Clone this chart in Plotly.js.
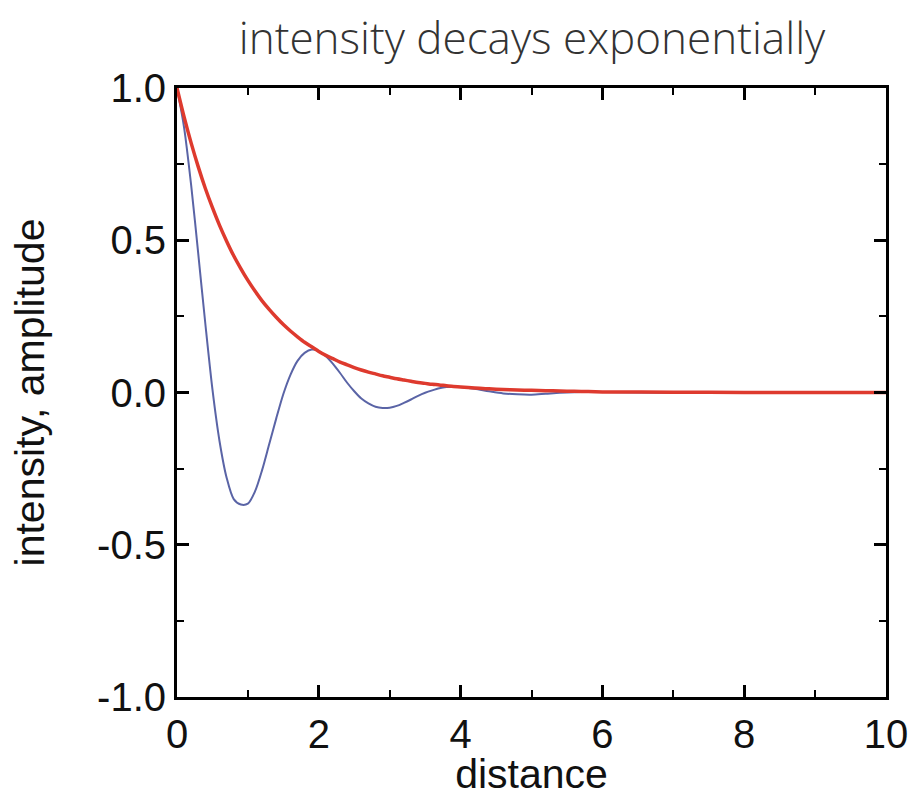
<!DOCTYPE html>
<html>
<head>
<meta charset="utf-8">
<script src="https://cdn.plot.ly/plotly-3.0.1.min.js"></script>
<style>html,body{margin:0;padding:0;background:#fff;}#chart{width:911px;height:797px;}</style>
</head>
<body>
<div id="chart"></div>
<script>
// distance samples
const distance = [0,0.1,0.2,0.3,0.4,0.5,0.6,0.7,0.8,0.9,1.0,1.1,1.2,1.3,1.4,1.5,1.6,1.7,1.8,1.9,2.0,2.1,2.2,2.3,2.4,2.5,2.6,2.7,2.8,2.9,3.0,3.1,3.2,3.3,3.4,3.5,3.6,3.7,3.8,3.9,4.0,4.2,4.4,4.6,4.8,5.0,5.2,5.4,5.6,5.8,6.0,7.0,8.0,9.0,10.0];
// red curve: intensity
const intensity = [1.000,0.905,0.819,0.741,0.670,0.607,0.549,0.497,0.449,0.407,0.368,0.333,0.301,0.273,0.247,0.223,0.202,0.183,0.165,0.150,0.135,0.122,0.111,0.100,0.091,0.082,0.074,0.067,0.061,0.055,0.050,0.045,0.041,0.037,0.033,0.030,0.027,0.025,0.022,0.020,0.018,0.015,0.012,0.010,0.008,0.007,0.006,0.005,0.004,0.003,0.002,0.001,0.000,0.000,0.000];
// blue curve: amplitude
const amplitude = [1.000,0.870,0.680,0.455,0.225,0.010,-0.160,-0.280,-0.350,-0.368,-0.365,-0.325,-0.255,-0.170,-0.085,-0.005,0.058,0.104,0.130,0.141,0.136,0.119,0.094,0.064,0.032,0.004,-0.020,-0.036,-0.047,-0.051,-0.050,-0.044,-0.034,-0.023,-0.011,-0.001,0.007,0.014,0.018,0.019,0.018,0.012,0.004,-0.003,-0.006,-0.007,-0.004,-0.001,0.001,0.002,0.002,-0.001,0.000,0.000,0.000];

const xTicks = [0,2,4,6,8,10];
const yTicks = [-1.0,-0.5,0.0,0.5,1.0];
const yTickText = ['-1.0','-0.5','0.0','0.5','1.0'];

const tickFont = {family:'Liberation Sans, Arial, sans-serif', size:40, color:'#111'};
const axisFont = {family:'Liberation Sans, Arial, sans-serif', size:41, color:'#111'};

const traces = [
  {x:distance, y:amplitude, type:'scatter', mode:'lines', line:{color:'#5a64a6', width:2, shape:'spline', smoothing:0.8}, hoverinfo:'skip'},
  {x:distance, y:intensity, type:'scatter', mode:'lines', line:{color:'#de3a2e', width:3.5, shape:'spline', smoothing:0.8}, hoverinfo:'skip'}
];

const layout = {
  width:911, height:797,
  margin:{l:177, r:25, t:88, b:100},
  paper_bgcolor:'#fff', plot_bgcolor:'#fff',
  showlegend:false,
  title:{text:'intensity decays exponentially', font:{family:'Open Sans, sans-serif', size:44, color:'#333', weight:300}, x:0.584, xanchor:'center', y:0.952, yanchor:'middle'},
  xaxis:{
    range:[0,10], tickvals:xTicks, ticktext:xTicks.map(String),
    ticks:'inside', ticklen:12, tickwidth:3, tickcolor:'#000',
    showline:true, linewidth:3, linecolor:'#000', mirror:'allticks',
    showgrid:false, zeroline:false, tickfont:tickFont,
    minor:{dtick:1, tick0:0, ticks:'inside', ticklen:7, tickwidth:2, tickcolor:'#000', showgrid:false},
    title:{text:'distance', font:axisFont, standoff:7},
    fixedrange:true
  },
  yaxis:{
    range:[-1,1], tickvals:yTicks, ticktext:yTickText,
    ticks:'inside', ticklen:12, tickwidth:3, tickcolor:'#000',
    showline:true, linewidth:3, linecolor:'#000', mirror:'allticks',
    showgrid:false, zeroline:false, tickfont:tickFont,
    minor:{dtick:0.25, tick0:0, ticks:'inside', ticklen:7, tickwidth:2, tickcolor:'#000', showgrid:false},
    title:{text:'intensity, amplitude', font:axisFont, standoff:40},
    fixedrange:true
  }
};

Plotly.newPlot('chart', traces, layout, {displayModeBar:false, staticPlot:true});
</script>
</body>
</html>
